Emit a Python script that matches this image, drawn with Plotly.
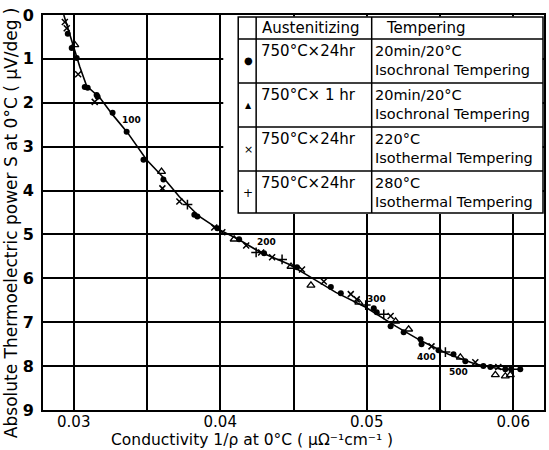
import plotly.graph_objects as go

# ---------------- data ----------------
line_x = [0.02932, 0.03041, 0.03088, 0.03177, 0.03265, 0.03367, 0.03497, 0.03605,
          0.03721, 0.03857, 0.03993, 0.04129, 0.04265, 0.04469, 0.04605, 0.04789,
          0.04993, 0.05197, 0.05374, 0.05558, 0.05741, 0.05918, 0.06054]
line_y = [0.0, 1.18, 1.62, 1.88, 2.27, 2.68, 3.30, 3.68,
          4.14, 4.59, 4.89, 5.12, 5.39, 5.68, 5.95, 6.32,
          6.66, 7.09, 7.43, 7.73, 7.95, 8.07, 8.07]

circle_x = [0.02959, 0.02986, 0.03020, 0.03075, 0.03095, 0.03156, 0.03163, 0.03265,
            0.03361, 0.03476, 0.03612, 0.03823, 0.03844, 0.03980, 0.04129, 0.04299,
            0.04524, 0.04755, 0.04823, 0.05048, 0.05068, 0.05163, 0.05252, 0.05367,
            0.05374, 0.05490, 0.05592, 0.05673, 0.05796, 0.05844, 0.05946, 0.05986,
            0.06048]
circle_y = [0.43, 0.75, 0.98, 1.64, 1.66, 1.82, 1.86, 2.23,
            2.66, 3.30, 3.75, 4.55, 4.59, 4.86, 5.11, 5.43,
            5.75, 6.20, 6.34, 6.68, 6.77, 7.09, 7.23, 7.39,
            7.50, 7.64, 7.73, 7.89, 8.00, 8.02, 8.07, 8.07,
            8.07]

triangle_x = [0.03007, 0.03599, 0.04095, 0.04483, 0.04619, 0.04946, 0.05197, 0.05286,
              0.05639, 0.05878, 0.05946, 0.05980]
triangle_y = [0.68, 3.57, 5.11, 5.73, 6.16, 6.55, 6.98, 7.16,
              7.80, 8.20, 8.23, 8.20]

cross_x = [0.02939, 0.02952, 0.03030, 0.03143, 0.03605, 0.03721, 0.03959, 0.04014,
           0.04177, 0.04279, 0.04354, 0.04558, 0.04707, 0.04891, 0.04932, 0.05163,
           0.05442, 0.05741, 0.05898]
cross_y = [0.16, 0.30, 1.35, 1.98, 3.95, 4.25, 4.84, 4.95,
           5.25, 5.41, 5.52, 5.80, 6.07, 6.36, 6.48, 6.86,
           7.55, 7.91, 8.02]

plus_x = [0.03776, 0.04245, 0.04422, 0.04993, 0.05116, 0.05537]
plus_y = [4.32, 5.41, 5.57, 6.61, 6.82, 7.68]

temp_labels = ["100", "200", "300", "400", "500"]
temp_x = [0.03395, 0.04313, 0.05068, 0.05408, 0.05626]
temp_y = [2.39, 5.18, 6.48, 7.80, 8.14]

x_tickvals = [0.03, 0.035, 0.04, 0.045, 0.05, 0.055, 0.06]
x_ticktext = ["0.03", "", "0.04", "", "0.05", "", "0.06"]
y_tickvals = [0, 1, 2, 3, 4, 5, 6, 7, 8, 9]

table_header = ["Austenitizing", "Tempering"]
table_austenitizing = ["750°C×24hr", "750°C× 1 hr", "750°C×24hr", "750°C×24hr"]
table_temp_line1 = ["20min/20°C", "20min/20°C", "220°C", "280°C"]
table_temp_line2 = ["Isochronal Tempering", "Isochronal Tempering",
                    "Isothermal Tempering", "Isothermal Tempering"]
table_symbols = ["●", "▲", "×", "+"]

x_title = "Conductivity 1/ρ at 0°C ( μΩ⁻¹cm⁻¹ )"
y_title = "Absolute Thermoelectric power S at 0°C ( μV/deg )"

# ---------------- layout helpers ----------------
W, H = 549, 450
L, R, T, B = 43, 546, 15, 410
FONT = "DejaVu Sans"


def px(xp):
    return (xp - L) / (R - L)


def py(yp):
    return (B - yp) / (B - T)


fig = go.Figure()

fig.add_trace(go.Scatter(x=line_x, y=line_y, mode="lines",
                         line=dict(color="black", width=1.6), showlegend=False))
fig.add_trace(go.Scatter(x=circle_x, y=circle_y, mode="markers",
                         marker=dict(symbol="circle", size=6, color="black"),
                         showlegend=False))
fig.add_trace(go.Scatter(x=triangle_x, y=triangle_y, mode="markers",
                         marker=dict(symbol="triangle-up-open", size=7, color="black",
                                     line=dict(width=1.3)),
                         showlegend=False))
fig.add_trace(go.Scatter(x=cross_x, y=cross_y, mode="markers",
                         marker=dict(symbol="x-thin-open", size=6, color="black",
                                     line=dict(width=1.5, color="black")),
                         showlegend=False))
fig.add_trace(go.Scatter(x=plus_x, y=plus_y, mode="markers",
                         marker=dict(symbol="cross-thin-open", size=7, color="black",
                                     line=dict(width=1.5, color="black")),
                         showlegend=False))

annotations = []
for t, xv, yv in zip(temp_labels, temp_x, temp_y):
    annotations.append(dict(x=xv, y=yv, xref="x", yref="y", text=t, showarrow=False,
                            font=dict(family=FONT, size=9, color="black", weight="bold")))

# table (white background covers the grid, then borders)
shapes = [
    dict(type="rect", xref="paper", yref="paper", x0=px(224), x1=px(544.6), y0=py(214),
         y1=py(16.4), fillcolor="white", line=dict(width=0), layer="above"),
    dict(type="rect", xref="paper", yref="paper", x0=px(239), x1=px(545), y0=py(213), y1=py(17),
         line=dict(color="black", width=1.5), layer="above"),
]
for xv in [257, 373]:
    shapes.append(dict(type="line", xref="paper", yref="paper", x0=px(xv), x1=px(xv),
                       y0=py(213), y1=py(17), line=dict(color="black", width=1.5),
                       layer="above"))
for yv in [39, 83, 127, 171]:
    shapes.append(dict(type="line", xref="paper", yref="paper", x0=px(239), x1=px(545),
                       y0=py(yv), y1=py(yv), line=dict(color="black", width=1.5),
                       layer="above"))

annotations.append(dict(x=px(261), y=py(28), xref="paper", yref="paper", text=table_header[0],
                        showarrow=False, xanchor="left", yanchor="middle",
                        font=dict(family=FONT, size=15, color="black")))
annotations.append(dict(x=px(385), y=py(28), xref="paper", yref="paper", text=table_header[1],
                        showarrow=False, xanchor="left", yanchor="middle",
                        font=dict(family=FONT, size=15, color="black")))
row_tops = [39, 83, 127, 171]
sym_sizes = [10, 8, 11, 12]
for i, top in enumerate(row_tops):
    annotations.append(dict(x=px(249), y=py(top + 22), xref="paper", yref="paper",
                            text=table_symbols[i], showarrow=False, xanchor="center",
                            yanchor="middle",
                            font=dict(family=FONT, size=sym_sizes[i], color="black")))
    annotations.append(dict(x=px(260), y=py(top + 12), xref="paper", yref="paper",
                            text=table_austenitizing[i], showarrow=False, xanchor="left",
                            yanchor="middle", font=dict(family=FONT, size=15, color="black")))
    annotations.append(dict(x=px(374), y=py(top + 12), xref="paper", yref="paper",
                            text=table_temp_line1[i], showarrow=False, xanchor="left",
                            yanchor="middle", font=dict(family=FONT, size=14.5, color="black")))
    annotations.append(dict(x=px(374), y=py(top + 31), xref="paper", yref="paper",
                            text=table_temp_line2[i], showarrow=False, xanchor="left",
                            yanchor="middle", font=dict(family=FONT, size=14.5, color="black")))

# axis titles
annotations.append(dict(x=px(253), y=py(439.5), xref="paper", yref="paper", text=x_title,
                        showarrow=False, xanchor="center", yanchor="middle",
                        font=dict(family=FONT, size=15.5, color="black")))
annotations.append(dict(x=px(11), y=py(223), xref="paper", yref="paper", text=y_title,
                        showarrow=False, xanchor="center", yanchor="middle", textangle=-90,
                        font=dict(family=FONT, size=17, color="black")))

fig.update_layout(
    width=W, height=H,
    margin=dict(l=L, r=W - R, t=T, b=H - B),
    paper_bgcolor="white", plot_bgcolor="white",
    shapes=shapes, annotations=annotations,
    showlegend=False,
)
fig.update_xaxes(range=[0.0279, 0.0621], tickvals=x_tickvals, ticktext=x_ticktext,
                 showgrid=True, gridcolor="black", gridwidth=1.5,
                 showline=True, linecolor="black", linewidth=2, mirror=True,
                 ticks="", zeroline=False, ticklabelstandoff=-3,
                 tickfont=dict(family=FONT, size=15, color="black"))
fig.update_yaxes(range=[9, 0], tickvals=y_tickvals,
                 showgrid=True, gridcolor="black", gridwidth=1.5,
                 showline=True, linecolor="black", linewidth=2, mirror=True,
                 ticks="", zeroline=False, ticklabelstandoff=4,
                 tickfont=dict(family=FONT, size=16, color="black", weight="bold"))

fig.write_html("out.html", config={"displayModeBar": False},
               post_script="document.body.style.margin='0';document.body.style.overflow='hidden';")
